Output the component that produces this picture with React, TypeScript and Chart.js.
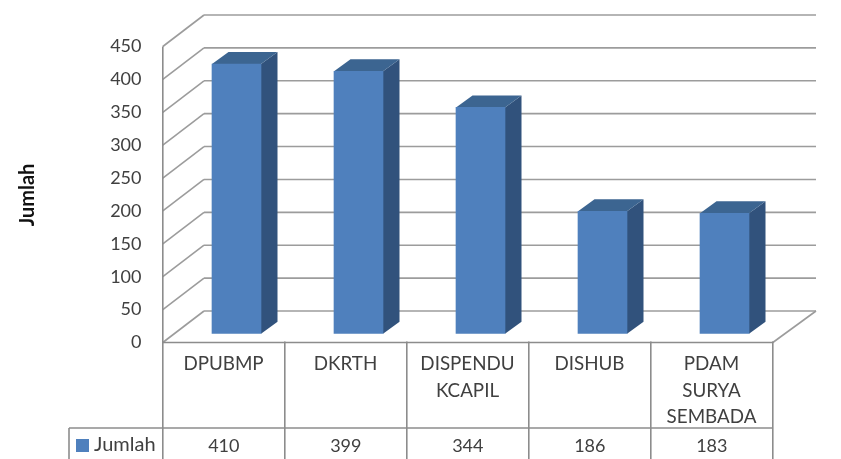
import { useEffect, useRef } from "react";
import { Chart, registerables } from "chart.js";

Chart.register(...registerables);

const categories = ["DPUBMP", "DKRTH", ["DISPENDU", "KCAPIL"], "DISHUB", ["PDAM", "SURYA", "SEMBADA"]];
const jumlah = [410, 399, 344, 186, 183];
const seriesName = "Jumlah";
const axisTitle = "Jumlah";

const FONT = "Lato";
const TEXT = "#404040";
const GRID = "#9c9c9c";
const TABLE = "#8c8c8c";
const BAR_FRONT = "#4f80bd";
const BAR_TOP = "#3c6591";
const BAR_SIDE = "#31527c";

// Offsets of the box planes relative to the plane the bar fronts sit on.
const WALL_FRONT = { x: -12.7, y: 8.8 };
const WALL_BACK = { x: 28.5, y: -22.7 };
const BAR_DEPTH = { x: 16.5, y: -12 };

const polygon = (ctx: CanvasRenderingContext2D, pts: number[][], fill: string) => {
  ctx.beginPath();
  pts.forEach(([x, y], i) => (i ? ctx.lineTo(x, y) : ctx.moveTo(x, y)));
  ctx.closePath();
  ctx.fillStyle = fill;
  ctx.fill();
};

const line = (ctx: CanvasRenderingContext2D, x1: number, y1: number, x2: number, y2: number) => {
  ctx.beginPath();
  ctx.moveTo(x1, y1);
  ctx.lineTo(x2, y2);
  ctx.stroke();
};

// Back wall, side wall and floor, then the depth faces of each bar.
const boxPlugin = {
  id: "box",
  beforeDatasetsDraw(chart: any) {
    const { ctx, scales } = chart;
    const { x: xs, y: ys } = scales;
    const frontX = xs.left + WALL_FRONT.x;
    const backX = xs.left + WALL_BACK.x;
    const backRight = xs.right + WALL_BACK.x + 2;
    const frontRight = xs.right + WALL_FRONT.x;
    ctx.save();
    ctx.strokeStyle = GRID;
    ctx.lineWidth = 1.6;
    ys.ticks.forEach((t: any) => {
      const p = ys.getPixelForValue(t.value);
      line(ctx, frontX, p + WALL_FRONT.y, backX, p + WALL_BACK.y);
      line(ctx, backX, p + WALL_BACK.y, backRight, p + WALL_BACK.y);
    });
    const zero = ys.getPixelForValue(0);
    line(ctx, frontRight, zero + WALL_FRONT.y, backRight, zero + WALL_BACK.y);
    const meta = chart.getDatasetMeta(0);
    meta.data.forEach((bar: any) => {
      const { x, y, base, width } = bar.getProps(["x", "y", "base", "width"], true);
      const l = x - width / 2;
      const r = x + width / 2;
      const d = BAR_DEPTH;
      polygon(ctx, [[r, y], [r + d.x, y + d.y], [r + d.x, base + d.y], [r, base]], BAR_SIDE);
      polygon(ctx, [[l, y], [l + d.x, y + d.y], [r + d.x, y + d.y], [r, y]], BAR_TOP);
    });
    ctx.restore();
  },
};

// Data table below the plot, with the legend key and the value row.
const tablePlugin = {
  id: "table",
  afterDraw(chart: any) {
    const { ctx, scales, height } = chart;
    const { x: xs, y: ys } = scales;
    const zero = ys.getPixelForValue(0) + WALL_FRONT.y;
    const rowY = 428;
    const legendLeft = 69;
    const cell = xs.getPixelForTick(1) - xs.getPixelForTick(0);
    const left = xs.left + WALL_FRONT.x;
    ctx.save();
    ctx.strokeStyle = TABLE;
    ctx.lineWidth = 1.6;
    line(ctx, left, zero, left + cell * jumlah.length, zero);
    line(ctx, legendLeft, rowY, left + cell * jumlah.length, rowY);
    line(ctx, legendLeft, rowY, legendLeft, height);
    for (let i = 0; i <= jumlah.length; i++) {
      const cx = left + cell * i;
      line(ctx, cx, i === 0 ? ys.getPixelForValue(450) + WALL_FRONT.y : zero - 1, cx, height);
    }
    ctx.fillStyle = TEXT;
    ctx.font = `18px ${FONT}`;
    ctx.textAlign = "center";
    ctx.textBaseline = "middle";
    jumlah.forEach((v, i) => ctx.fillText(String(v), left + cell * (i + 0.5), 446));
    ctx.textAlign = "left";
    ctx.font = `20px ${FONT}`;
    ctx.fillText(seriesName, 94, 445);
    ctx.fillStyle = BAR_FRONT;
    ctx.fillRect(76, 439, 13, 13);
    ctx.translate(28, 195);
    ctx.rotate(-Math.PI / 2);
    ctx.fillStyle = "#111111";
    ctx.font = `bold 20px ${FONT}`;
    ctx.textAlign = "center";
    ctx.fillText(axisTitle, 0, 0);
    ctx.restore();
  },
};

export default function App() {
  const ref = useRef<HTMLCanvasElement>(null);
  useEffect(() => {
    document.body.style.margin = "0";
    const chart = new Chart(ref.current!, {
      type: "bar",
      data: {
        labels: categories as any,
        datasets: [
          { label: seriesName, data: jumlah, backgroundColor: BAR_FRONT, barThickness: 49 },
        ],
      },
      options: {
        responsive: false,
        animation: false,
        layout: { padding: { left: 20, top: 37.7, right: 55.5, bottom: 0 } },
        plugins: { legend: { display: false }, title: { display: false }, tooltip: { enabled: false } },
        scales: {
          x: {
            grid: { display: false, drawTicks: false },
            border: { display: false },
            afterFit(scale: any) {
              scale.height = 125.3;
              scale.paddingLeft = 0;
              scale.paddingRight = 0;
            },
            ticks: {
              autoSkip: false,
              maxRotation: 0,
              minRotation: 0,
              labelOffset: -13,
              padding: 17,
              color: TEXT,
              font: { family: FONT, size: 18.8, lineHeight: 1.41 },
            },
          },
          y: {
            min: 0,
            max: 450,
            grid: { display: false, drawTicks: false },
            border: { display: false },
            afterFit(scale: any) {
              scale.width = 155.5;
              scale.paddingTop = 0;
              scale.paddingBottom = 0;
            },
            ticks: {
              stepSize: 50,
              labelOffset: 8.8,
              padding: 34,
              color: TEXT,
              font: { family: FONT, size: 18 },
            },
          },
        },
      },
      plugins: [boxPlugin, tablePlugin],
    });
    return () => chart.destroy();
  }, []);
  return <canvas ref={ref} width={841} height={459} style={{ display: "block" }} />;
}
